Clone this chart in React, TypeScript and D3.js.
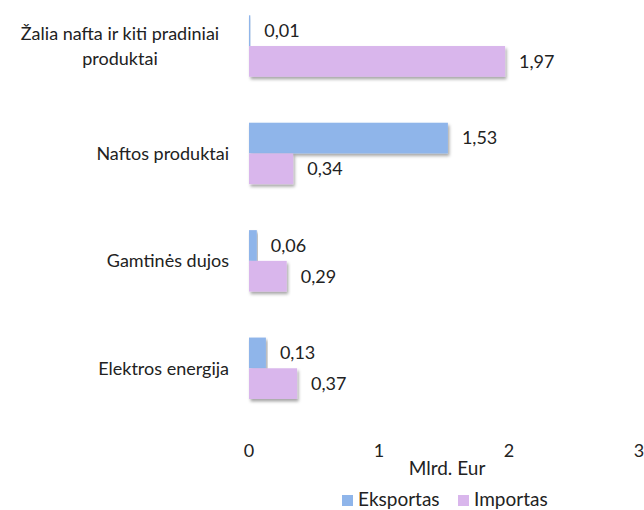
import React, { useEffect, useRef } from 'react';
import * as d3 from 'd3';

const categories = [
  ['Žalia nafta ir kiti pradiniai', 'produktai'],
  ['Naftos produktai'],
  ['Gamtinės dujos'],
  ['Elektros energija'],
];
const seriesNames = ['Eksportas', 'Importas'];
const eksportas = [0.01, 1.53, 0.06, 0.13];
const importas = [1.97, 0.34, 0.29, 0.37];
const xTicks = [0, 1, 2, 3];
const colors = ['#8fb5ea', '#d9b6ec'];

const App = () => {
  const svgRef = useRef<SVGSVGElement>(null);

  useEffect(() => {
    const svg = d3.select(svgRef.current);
    svg.selectAll('*').remove();

    const font = 'Lato, "Open Sans", sans-serif';
    const fs = 18;

    const defs = svg.append('defs');
    const filter = defs.append('filter').attr('id', 'shadow')
      .attr('x', '-5%').attr('y', '-20%').attr('width', '115%').attr('height', '160%');
    filter.append('feDropShadow')
      .attr('dx', 1.5).attr('dy', 2.5).attr('stdDeviation', 1.5)
      .attr('flood-color', '#000').attr('flood-opacity', 0.35);

    const x = d3.scaleLinear().domain([0, 3]).range([249, 639]);
    const keys = categories.map((c) => c.join(' '));
    const y = d3.scaleBand().domain(keys).range([15.3, 399]).paddingInner(0.428).paddingOuter(0);
    const ySub = d3.scaleBand().domain(seriesNames).range([0, y.bandwidth()]);

    const rows = keys.map((k, i) => ({ key: k, lines: categories[i], values: [eksportas[i], importas[i]] }));

    const g = svg.append('g');

    // bars
    rows.forEach((r) => {
      const yy = y(r.key)!;
      r.values.forEach((v, j) => {
        g.append('rect')
          .attr('x', x(0))
          .attr('y', yy + ySub(seriesNames[j])!)
          .attr('width', Math.max(1, x(v) - x(0)))
          .attr('height', ySub.bandwidth())
          .attr('fill', colors[j])
          .attr('filter', 'url(#shadow)');
        g.append('text')
          .attr('x', x(v) + 14)
          .attr('y', yy + ySub(seriesNames[j])! + ySub.bandwidth() / 2)
          .attr('dy', '0.35em')
          .attr('font-family', font)
          .attr('font-size', fs)
          .attr('fill', '#222')
          .text(d3.format('.2f')(v).replace('.', ','));
      });

      // category labels
      const cy = yy + y.bandwidth() / 2;
      const lh = 25;
      const label = g.append('text')
        .attr('font-family', font)
        .attr('font-size', fs)
        .attr('fill', '#222');
      if (r.lines.length > 1) {
        r.lines.forEach((line, li) => {
          label.append('tspan')
            .attr('x', 120)
            .attr('text-anchor', 'middle')
            .attr('y', cy + (li - (r.lines.length - 1) / 2) * lh)
            .attr('dy', '0.35em')
            .text(line);
        });
      } else {
        label.attr('x', 229).attr('y', cy).attr('dy', '0.35em')
          .attr('text-anchor', 'end').text(r.lines[0]);
      }
    });

    // x tick labels
    g.selectAll('text.tick')
      .data(xTicks)
      .join('text')
      .attr('class', 'tick')
      .attr('x', (d) => x(d))
      .attr('y', 451)
      .attr('dy', '0.35em')
      .attr('text-anchor', 'middle')
      .attr('font-family', font)
      .attr('font-size', fs)
      .attr('fill', '#222')
      .text((d) => d);

    svg.append('text')
      .attr('x', 447)
      .attr('y', 468)
      .attr('dy', '0.35em')
      .attr('text-anchor', 'middle')
      .attr('font-family', font)
      .attr('font-size', 19)
      .attr('fill', '#222')
      .text('Mlrd. Eur');

    // legend
    const legend = svg.append('g');
    const lx = [342, 458];
    seriesNames.forEach((n, i) => {
      legend.append('rect')
        .attr('x', lx[i]).attr('y', 495).attr('width', 11).attr('height', 11)
        .attr('fill', colors[i]);
      legend.append('text')
        .attr('x', lx[i] + 16).attr('y', 499)
        .attr('dy', '0.35em')
        .attr('font-family', font)
        .attr('font-size', 19)
        .attr('fill', '#222')
        .text(n);
    });
  }, []);

  return (
    <svg ref={svgRef} width={644} height={510} style={{ position: 'absolute', left: 0, top: 0 }} />
  );
};

export default App;
